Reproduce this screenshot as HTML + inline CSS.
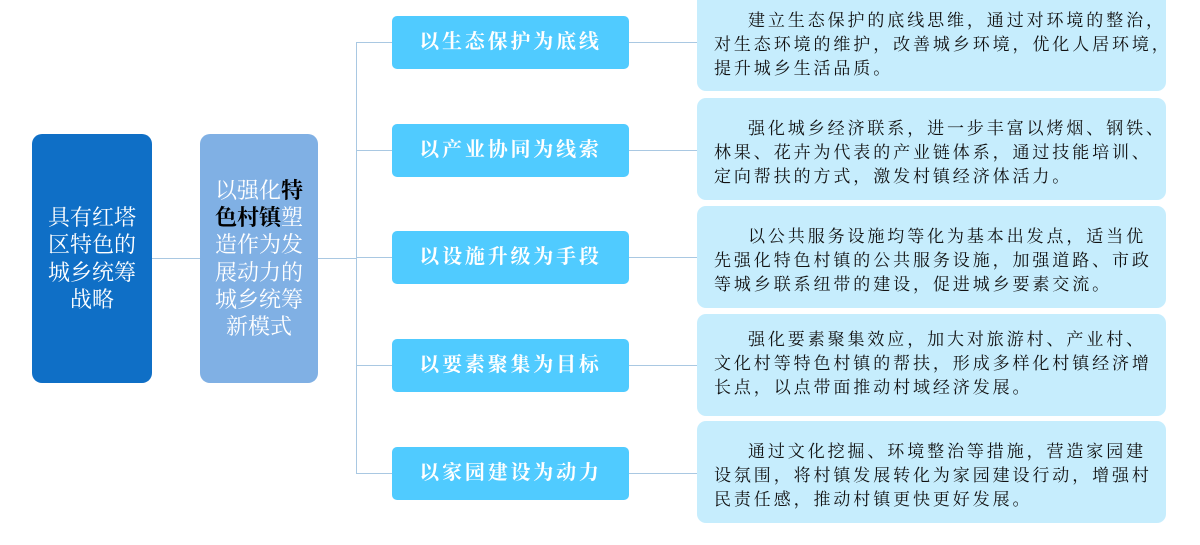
<!DOCTYPE html>
<html><head><meta charset="utf-8"><style>
body{margin:0;width:1200px;height:545px;background:#fff;position:relative;overflow:hidden}
.a{position:absolute;box-sizing:border-box}
.l{position:absolute;background:#a9c8e2}
.b1{left:32px;top:134px;width:120px;height:249px;background:#0f6fc6;border-radius:10px;color:#fff;font:22px/27.5px "Liberation Serif","Noto Serif CJK SC",serif;display:flex;align-items:center;justify-content:center;text-align:center;padding:0 10px}
.b2{left:200px;top:134px;width:118px;height:249px;background:#80b0e4;border-radius:10px;color:#fff;font:22px/27.3px "Liberation Serif","Noto Serif CJK SC",serif;display:flex;align-items:center;justify-content:center;text-align:center;padding:0 10px}
.b2 b{color:#000}
.m{left:392px;width:237px;height:53px;background:#50cbff;border-radius:5px;color:#fff;font:bold 20px/53px "Liberation Serif","Noto Serif CJK SC",serif;letter-spacing:2.8px;text-align:center}
.d{left:697px;width:469px;height:102px;background:#c6edfd;border-radius:9px;padding:9px 0 0 17px;color:#111;font:17px/24px "Liberation Serif","Noto Serif CJK SC",serif;letter-spacing:2.9px;white-space:nowrap;text-indent:34px}
</style></head><body>
<div class="l" style="left:152px;top:258px;width:48px;height:1px"></div>
<div class="l" style="left:318px;top:258px;width:38px;height:1px"></div>
<div class="l" style="left:356px;top:42px;width:1px;height:431px"></div>
<div class="l" style="left:356px;top:42px;width:341px;height:1px"></div>
<div class="l" style="left:356px;top:150px;width:341px;height:1px"></div>
<div class="l" style="left:356px;top:257px;width:341px;height:1px"></div>
<div class="l" style="left:356px;top:365px;width:341px;height:1px"></div>
<div class="l" style="left:356px;top:473px;width:341px;height:1px"></div>
<div class="a b1">具有红塔区特色的城乡统筹战略</div>
<div class="a b2"><div>以强化<b>特色村镇</b>塑造作为发展动力的城乡统筹新模式</div></div>
<div class="a m" style="top:16px">以生态保护为底线</div>
<div class="a m" style="top:124px">以产业协同为线索</div>
<div class="a m" style="top:231px">以设施升级为手段</div>
<div class="a m" style="top:339px">以要素聚集为目标</div>
<div class="a m" style="top:447px">以家园建设为动力</div>
<div class="a d" style="top:-11px;padding-top:20px">建立生态保护的底线思维，通过对环境的整治，<br>对生态环境的维护，改善城乡环境，优化人居环境，<br>提升城乡生活品质。</div>
<div class="a d" style="top:98px;padding-top:19px">强化城乡经济联系，进一步丰富以烤烟、钢铁、<br>林果、花卉为代表的产业链体系，通过技能培训、<br>定向帮扶的方式，激发村镇经济体活力。</div>
<div class="a d" style="top:206px;padding-top:19px">以公共服务设施均等化为基本出发点，适当优<br>先强化特色村镇的公共服务设施，加强道路、市政<br>等城乡联系纽带的建设，促进城乡要素交流。</div>
<div class="a d" style="top:314px;padding-top:14px">强化要素聚集效应，加大对旅游村、产业村、<br>文化村等特色村镇的帮扶，形成多样化村镇经济增<br>长点，以点带面推动村域经济发展。</div>
<div class="a d" style="top:421px;padding-top:19px">通过文化挖掘、环境整治等措施，营造家园建<br>设氛围，将村镇发展转化为家园建设行动，增强村<br>民责任感，推动村镇更快更好发展。</div>
</body></html>
